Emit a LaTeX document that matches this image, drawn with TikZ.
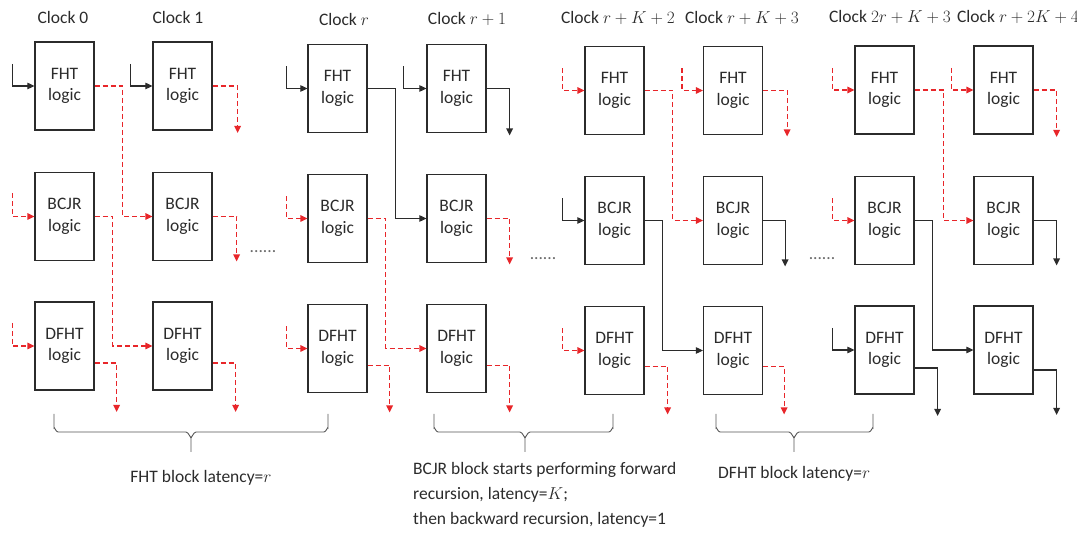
\documentclass[tikz,border=0pt]{standalone}
\usepackage{fontspec}
\setmainfont{Carlito}
\usetikzlibrary{arrows.meta}
\definecolor{ink}{HTML}{2B2B2B}
\definecolor{sig}{HTML}{E8262A}
\begin{document}
\begin{tikzpicture}[x=1pt,y=-1pt,
  font=\fontsize{17.5}{21.5}\selectfont,
  logicbox/.style={draw=ink,line width=1.2pt,minimum width=59pt,minimum height=88pt,
    inner sep=0pt,align=center,text=ink},
  lbl/.style={text=ink,inner sep=0pt},
  blk/.style={draw=ink,line width=1.1pt,-{Triangle[length=7pt,width=6.5pt]}},
  rd/.style={draw=sig,line width=1.2pt,dash pattern=on 5pt off 3pt,
    -{Triangle[length=7pt,width=6.5pt]}},
  brace/.style={draw=ink!80,line width=0.9pt},
  dots/.style={text=ink!70,inner sep=0pt}]
\useasboundingbox (0,0) rectangle (1077,534);

% clock headings
\node[lbl] (c1) at (63,17) {Clock 0};
\node[lbl] (c2) at (178,17) {Clock 1};
\node[lbl] (c3) at (344,19) {Clock $r$};
\node[lbl] (c4) at (467,19) {Clock $r+1$};
\node[lbl] (c5) at (618,18) {Clock $r+K+2$};
\node[lbl] (c6) at (742,18) {Clock $r+K+3$};
\node[lbl] (c7) at (890,17) {Clock $2r+K+3$};
\node[lbl] (c8) at (1018,17) {Clock $r+2K+4$};

% logic blocks: FHT row, BCJR row, DFHT row
\node[logicbox] (f1) at (64.5,86) {FHT\\logic};
\node[logicbox] (f2) at (182.5,86) {FHT\\logic};
\node[logicbox] (f3) at (337.5,88.5) {FHT\\logic};
\node[logicbox] (f4) at (456.5,88.5) {FHT\\logic};
\node[logicbox] (f5) at (614.5,90.5) {FHT\\logic};
\node[logicbox] (f6) at (733,90.5) {FHT\\logic};
\node[logicbox] (f7) at (884.5,90) {FHT\\logic};
\node[logicbox] (f8) at (1003.5,90) {FHT\\logic};

\node[logicbox] (b1) at (64.5,216.5) {BCJR\\logic};
\node[logicbox] (b2) at (182.5,216.5) {BCJR\\logic};
\node[logicbox] (b3) at (337.5,218.5) {BCJR\\logic};
\node[logicbox] (b4) at (456.5,218.5) {BCJR\\logic};
\node[logicbox] (b5) at (614.5,220.5) {BCJR\\logic};
\node[logicbox] (b6) at (733,220.5) {BCJR\\logic};
\node[logicbox] (b7) at (884.5,220.5) {BCJR\\logic};
\node[logicbox] (b8) at (1003.5,220.5) {BCJR\\logic};

\node[logicbox] (d1) at (64.5,346) {DFHT\\logic};
\node[logicbox] (d2) at (182.5,346) {DFHT\\logic};
\node[logicbox] (d3) at (337.5,348.5) {DFHT\\logic};
\node[logicbox] (d4) at (456.5,348.5) {DFHT\\logic};
\node[logicbox] (d5) at (614.5,350.5) {DFHT\\logic};
\node[logicbox] (d6) at (733,350.5) {DFHT\\logic};
\node[logicbox] (d7) at (884.5,350) {DFHT\\logic};
\node[logicbox] (d8) at (1003.5,350) {DFHT\\logic};

% skipped clocks
\node[dots] (g1) at (263,252) {......};
\node[dots] (g2) at (543,259) {......};
\node[dots] (g3) at (822,259) {......};

% ---- clocks 0 and 1
\draw[blk] ([shift={(-22,-22)}]f1.west) |- (f1.west);
\draw[blk] ([shift={(-22,-22)}]f2.west) |- (f2.west);
\draw[rd] ([shift={(-22,-23)}]b1.west) |- (b1.west);
\draw[rd] ([shift={(-22,-23)}]d1.west) |- (d1.west);
\draw[rd] (f1.east) -- ++(28,0) |- (b2.west);
\draw[rd] (f2.east) -- ++(25,0) -- ++(0,47);
\draw[rd] (b1.east) -- ++(18,0) |- (d2.west);
\draw[rd] (b2.east) -- ++(24,0) -- ++(0,45);
\draw[rd] ([shift={(0,17)}]d1.east) -- ++(22,0) -- ++(0,49);
\draw[rd] ([shift={(0,17)}]d2.east) -- ++(23,0) -- ++(0,49);

% ---- clocks r and r+1
\draw[blk] ([shift={(-21,-22)}]f3.west) |- (f3.west);
\draw[blk] ([shift={(-23,-22)}]f4.west) |- (f4.west);
\draw[rd] ([shift={(-21,-22)}]b3.west) |- (b3.west);
\draw[rd] ([shift={(-21,-22)}]d3.west) |- (d3.west);
\draw[blk] (f3.east) -- ++(28,0) |- (b4.west);
\draw[blk] (f4.east) -- ++(23,0) -- ++(0,47);
\draw[rd] (b3.east) -- ++(18,0) |- (d4.west);
\draw[rd] (b4.east) -- ++(23,0) -- ++(0,46);
\draw[rd] ([shift={(0,17)}]d3.east) -- ++(22,0) -- ++(0,47);
\draw[rd] ([shift={(0,17)}]d4.east) -- ++(23,0) -- ++(0,47);

% ---- clocks r+K+2 and r+K+3
\draw[rd] ([shift={(-22,-22)}]f5.west) |- (f5.west);
\draw[rd] ([shift={(-21,-22)}]f6.west) |- (f6.west);
\draw[blk] ([shift={(-22,-22)}]b5.west) |- (b5.west);
\draw[rd] ([shift={(-22,-22)}]d5.west) |- (d5.west);
\draw[rd] (f5.east) -- ++(28,0) |- (b6.west);
\draw[rd] (f6.east) -- ++(24,0) -- ++(0,46);
\draw[blk] (b5.east) -- ++(18,0) |- (d6.west);
\draw[blk] (b6.east) -- ++(22,0) -- ++(0,46);
\draw[rd] ([shift={(0,16)}]d5.east) -- ++(23,0) -- ++(0,48);
\draw[rd] ([shift={(0,16)}]d6.east) -- ++(21,0) -- ++(0,48);

% ---- clocks 2r+K+3 and r+2K+4
\draw[rd] ([shift={(-22,-22)}]f7.west) |- (f7.west);
\draw[rd] ([shift={(-22,-22)}]f8.west) |- (f8.west);
\draw[rd] ([shift={(-22,-22)}]b7.west) |- (b7.west);
\draw[blk] ([shift={(-22,-22)}]d7.west) |- (d7.west);
\draw[rd] (f7.east) -- ++(29,0) |- (b8.west);
\draw[rd] (f8.east) -- ++(23,0) -- ++(0,47);
\draw[blk] (b7.east) -- ++(18,0) |- (d8.west);
\draw[blk] (b8.east) -- ++(23,0) -- ++(0,45);
\draw[blk] ([shift={(0,18)}]d7.east) -- ++(23,0) -- ++(0,48);
\draw[blk] ([shift={(0,20)}]d8.east) -- ++(23,0) -- ++(0,45);

% braces under the stages
\foreach \xa/\xc/\xb in {54/191/328, 434/525/613, 716/794/873}{
  \draw[brace] (\xa,414) -- (\xa,428) to[out=90,in=180] (\xa+4,432)
    -- (\xc-5,432) to[out=0,in=-90] (\xc,437) -- (\xc,452);
  \draw[brace] (\xb,414) -- (\xb,428) to[out=90,in=0] (\xb-4,432)
    -- (\xc+5,432) to[out=180,in=-90] (\xc,437);
}

% stage notes
\node[lbl] (t1) at (201,478) {FHT block latency=$r$};
\node[lbl,anchor=north west,align=left,font=\fontsize{17.5}{25}\selectfont] (t2) at (413,462)
  {BCJR block starts performing forward\\recursion, latency=$K$;\\then backward recursion, latency=1};
\node[lbl,anchor=west] (t3) at (718,474) {DFHT block latency=$r$};
\end{tikzpicture}
\end{document}
